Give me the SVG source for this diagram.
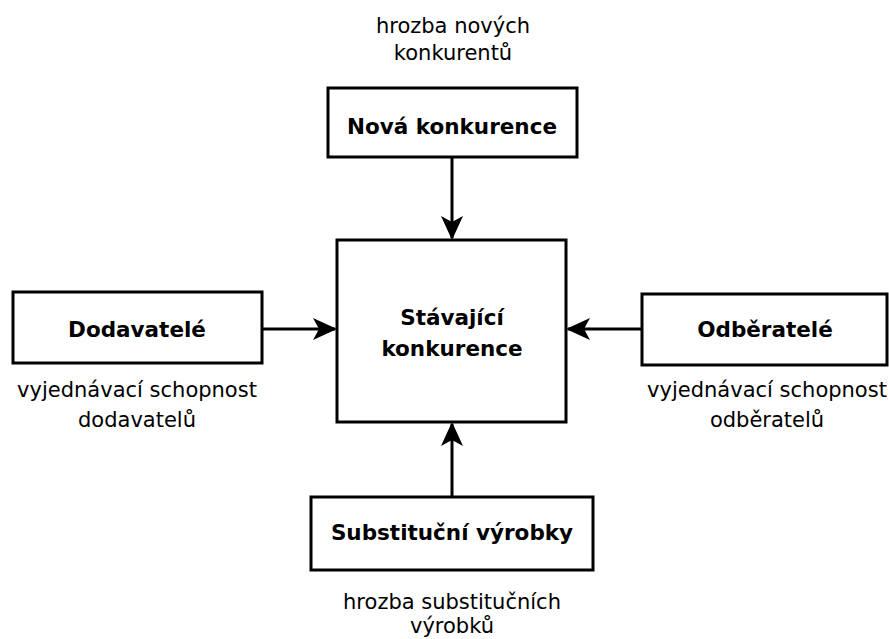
<svg xmlns="http://www.w3.org/2000/svg" width="889" height="639" viewBox="0 0 889 639">
<defs>
<style>
.box{fill:#fff;stroke:#000;stroke-width:3}
.lbl{font-family:"DejaVu Sans",sans-serif;font-size:21px;fill:#000;text-anchor:middle}
.b{font-weight:bold;font-size:21.5px}
.c{fill:none;stroke:#000;stroke-width:3}
</style>
<marker id="ah" markerWidth="24" markerHeight="22" viewBox="0 0 24 22" refX="22" refY="11" orient="auto" markerUnits="userSpaceOnUse">
<path d="M0,0 L24,11 L0,22 L6,11 Z" fill="#000"/>
</marker>
</defs>
<g id="connectors">
<line class="c" x1="452" y1="158" x2="452" y2="238" marker-end="url(#ah)"/>
<line class="c" x1="452" y1="496" x2="452" y2="424" marker-end="url(#ah)"/>
<line class="c" x1="263" y1="329" x2="335" y2="329" marker-end="url(#ah)"/>
<line class="c" x1="641" y1="329" x2="568" y2="329" marker-end="url(#ah)"/>
</g>
<g id="nova">
<text class="lbl" x="453" y="33">hrozba nových</text>
<text class="lbl" x="453" y="60">konkurentů</text>
<rect class="box" x="328" y="88" width="249" height="69"/>
<text class="lbl b" x="452" y="134">Nová konkurence</text>
</g>
<g id="stavajici">
<rect class="box" x="337" y="240" width="229" height="182"/>
<text class="lbl b" x="452" y="325">Stávající</text>
<text class="lbl b" x="452" y="356">konkurence</text>
</g>
<g id="dodavatele">
<rect class="box" x="13" y="292" width="249" height="71"/>
<text class="lbl b" x="137" y="337">Dodavatelé</text>
<text class="lbl" x="137" y="397">vyjednávací schopnost</text>
<text class="lbl" x="137" y="427">dodavatelů</text>
</g>
<g id="odberatele">
<rect class="box" x="642" y="294" width="245" height="71"/>
<text class="lbl b" x="765" y="337">Odběratelé</text>
<text class="lbl" x="767" y="397">vyjednávací schopnost</text>
<text class="lbl" x="767" y="427">odběratelů</text>
</g>
<g id="substitucni">
<rect class="box" x="311" y="497" width="282" height="73"/>
<text class="lbl b" x="452" y="540">Substituční výrobky</text>
<text class="lbl" x="452" y="609">hrozba substitučních</text>
<text class="lbl" x="452" y="633">výrobků</text>
</g>
</svg>
